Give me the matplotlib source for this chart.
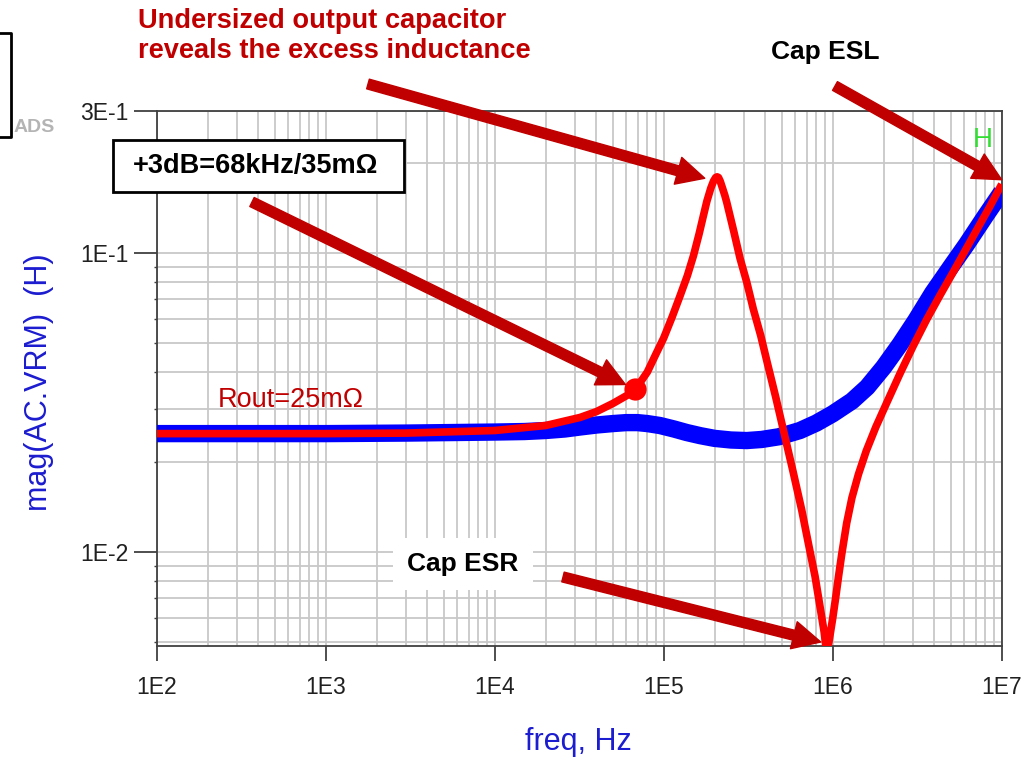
import matplotlib
matplotlib.use("Agg")
import numpy as np
import matplotlib.pyplot as plt
from matplotlib.ticker import FixedLocator, LogLocator, NullFormatter
from matplotlib.patches import Rectangle
from matplotlib.lines import Line2D

plt.rcParams['font.family'] = ['Liberation Sans', 'DejaVu Sans']

W, H = 1036, 767

# Output impedance with the full output capacitor bank (Ohm vs Hz)
freq_full = [1e2, 1e3, 3e3, 1e4, 1.5e4, 2e4, 2.6e4, 3.2e4, 4e4, 5e4,
             6e4, 7e4, 8e4, 9.5e4, 1.15e5, 1.37e5, 1.65e5, 2.0e5, 2.5e5, 3.1e5,
             3.8e5, 4.8e5, 6.4e5, 8e5, 1.0e6, 1.3e6, 1.6e6, 2.0e6, 2.5e6, 3.1e6,
             3.9e6, 5e6, 6.2e6, 8e6, 1e7]
z_full = [0.0249, 0.0249, 0.0250, 0.0252, 0.0253, 0.0255, 0.0258, 0.0262, 0.0266, 0.0269,
          0.0271, 0.0271, 0.0269, 0.0265, 0.0258, 0.0251, 0.0245, 0.0240, 0.0237, 0.0236,
          0.0238, 0.0243, 0.0255, 0.0270, 0.0290, 0.0320, 0.0356, 0.0415, 0.0495, 0.0595,
          0.0735, 0.0900, 0.1070, 0.1330, 0.1600]

# Output impedance with an undersized output capacitor
freq_small = [1e2, 1e3, 3e3, 1e4, 2e4, 3.2e4, 4e4, 5e4, 6e4, 6.8e4,
              8e4, 9e4, 1e5, 1.12e5, 1.25e5, 1.38e5, 1.5e5, 1.62e5, 1.71e5, 1.8e5,
              1.9e5, 1.97e5, 2.03e5, 2.07e5, 2.11e5, 2.16e5, 2.22e5, 2.3e5, 2.36e5, 2.6e5,
              2.83e5, 3.1e5, 3.39e5, 3.75e5, 4.1e5, 4.6e5, 5.2e5, 5.8e5, 6.56e5, 7.2e5,
              7.86e5, 8.4e5, 8.9e5, 9.2e5, 9.5e5, 1.0e6, 1.04e6, 1.08e6, 1.13e6, 1.21e6,
              1.3e6, 1.42e6, 1.58e6, 1.8e6, 2.1e6, 2.5e6, 3.0e6, 3.6e6, 4.3e6, 5.2e6,
              6.2e6, 7.2e6, 8.5e6, 1e7]
z_small = [0.0249, 0.0249, 0.0250, 0.0255, 0.0265, 0.0282, 0.0295, 0.0314, 0.0333, 0.0350,
           0.0400, 0.0460, 0.0520, 0.0610, 0.0720, 0.0840, 0.0980, 0.1160, 0.1320, 0.1490,
           0.1650, 0.1740, 0.1790, 0.1800, 0.1790, 0.1740, 0.1660, 0.1560, 0.1480, 0.1180,
           0.0960, 0.0800, 0.0650, 0.0530, 0.0430, 0.0330, 0.0245, 0.0188, 0.0138, 0.0106,
           0.0083, 0.0066, 0.0054, 0.0046, 0.0050, 0.0060, 0.0070, 0.0082, 0.0098, 0.0125,
           0.0152, 0.0182, 0.0218, 0.0262, 0.0318, 0.0395, 0.0490, 0.0600, 0.0720, 0.0870,
           0.1040, 0.1210, 0.1430, 0.1700]

# +3 dB point
knee_freq = 68e3
knee_z = 0.035

# Points the callout arrows land on
esr_freq, esr_z = 8.5e5, 5.0e-3
peak_freq, peak_z = 1.75e5, 0.178
esl_freq, esl_z = 1e7, 0.176

x_ticks = [1e2, 1e3, 1e4, 1e5, 1e6, 1e7]
x_tick_labels = ['1E2', '1E3', '1E4', '1E5', '1E6', '1E7']
y_ticks = [1e-2, 1e-1, 3e-1]
y_tick_labels = ['1E-2', '1E-1', '3E-1']

DARK_RED = '#c00000'
TRACE_BLUE = '#0000ff'
TRACE_RED = '#ff0000'
AXIS_BLUE = '#1c1cd0'


def fx(px):
    return px / W


def fy(py):
    return 1 - py / H


fig = plt.figure(figsize=(W / 100, H / 100), dpi=100)
fig.patch.set_facecolor('white')

left, right, top, bottom = 156.7, 1001.7, 110.5, 645.7
ax = fig.add_axes([fx(left), fy(bottom), (right - left) / W, (bottom - top) / H])
ax.set_xscale('log')
ax.set_yscale('log')
ax.set_xlim(1e2, 1e7)
ax.set_ylim(4.86e-3, 3e-1)

ax.plot(freq_full, z_full, color=TRACE_BLUE, lw=12.5, solid_capstyle='butt',
        solid_joinstyle='round', zorder=3)
ax.plot(freq_small, z_small, color=TRACE_RED, lw=5.5, solid_capstyle='butt',
        solid_joinstyle='round', zorder=4)
ax.plot([knee_freq], [knee_z], 'o', color=TRACE_RED, ms=16, mec='none', zorder=5)

# axes, ticks and grid
ax.xaxis.set_major_locator(FixedLocator(x_ticks))
ax.xaxis.set_major_formatter(plt.FixedFormatter(x_tick_labels))
ax.xaxis.set_minor_locator(LogLocator(base=10, subs=np.arange(2, 10)))
ax.xaxis.set_minor_formatter(NullFormatter())
ax.yaxis.set_major_locator(FixedLocator(y_ticks))
ax.yaxis.set_major_formatter(plt.FixedFormatter(y_tick_labels))
ax.yaxis.set_minor_locator(LogLocator(base=10, subs=np.arange(2, 10)))
ax.yaxis.set_minor_formatter(NullFormatter())

ax.grid(which='both', color='#c8c8c8', lw=1.3)
ax.set_axisbelow(True)
for s in ax.spines.values():
    s.set_color('#404040')
    s.set_linewidth(1.3)

ax.tick_params(axis='x', which='major', direction='out', length=11, width=1.2,
               color='#303030', labelsize=16.5, pad=11, labelcolor='#202020')
ax.tick_params(axis='y', which='major', direction='out', length=16.5, width=1.2,
               color='#303030', labelsize=16.5, pad=4, labelcolor='#202020')
ax.tick_params(axis='x', which='minor', length=0)
ax.tick_params(axis='y', which='minor', direction='out', length=2.5, width=1.0,
               color='#404040')

fig.text(fx(578), fy(742), 'freq, Hz', color=AXIS_BLUE, fontsize=22,
         ha='center', va='center')
fig.text(fx(39), fy(382), 'mag(AC.VRM)  (H)', color=AXIS_BLUE, fontsize=22,
         ha='center', va='center', rotation=90)

# corner marks
fig.text(fx(34), fy(128), 'ADS', color='#b4b4b4', fontsize=14, fontweight='bold',
         ha='center', va='center')
fig.add_artist(Line2D([0, fx(11), fx(11), 0], [fy(33), fy(33), fy(137), fy(137)],
                      transform=fig.transFigure, color='black', lw=2))
fig.text(fx(983), fy(140), 'H', color='#33dd33', fontsize=20, ha='center', va='center')

# callout texts
fig.text(fx(138), fy(21), 'Undersized output capacitor', color=DARK_RED,
         fontsize=19.6, fontweight='bold', ha='left', va='center')
fig.text(fx(138), fy(51), 'reveals the excess inductance', color=DARK_RED,
         fontsize=19.6, fontweight='bold', ha='left', va='center')
fig.text(fx(825), fy(52), 'Cap ESL', color='black', fontsize=19, fontweight='bold',
         ha='center', va='center')
fig.add_artist(Rectangle((fx(113), fy(192)), (404 - 113) / W, (192 - 140) / H,
                         transform=fig.transFigure, facecolor='white',
                         edgecolor='black', lw=2, zorder=2))
fig.text(fx(256), fy(166), '+3dB=68kHz/35m\u03a9', color='black', fontsize=19.5,
         fontweight='bold', ha='center', va='center', zorder=3)
fig.text(fx(291), fy(400), 'Rout=25m\u03a9', color=DARK_RED, fontsize=19.5,
         ha='center', va='center', zorder=3)
fig.text(fx(463), fy(564), 'Cap ESR', color='black', fontsize=19, fontweight='bold',
         ha='center', va='center', zorder=3,
         bbox=dict(facecolor='white', edgecolor='none', pad=10))

arrow = dict(arrowstyle='simple,head_length=1.0,head_width=1.0,tail_width=0.36',
             color=DARK_RED, mutation_scale=20, shrinkA=0, shrinkB=0)
ax.annotate('', xy=(peak_freq, peak_z), xycoords='data',
            xytext=(368, H - 84), textcoords='figure pixels',
            arrowprops=arrow, annotation_clip=False, zorder=6)
ax.annotate('', xy=(knee_freq, knee_z), xycoords='data',
            xytext=(252, H - 202), textcoords='figure pixels',
            arrowprops=dict(arrow, shrinkB=8), annotation_clip=False, zorder=6)
ax.annotate('', xy=(esl_freq, esl_z), xycoords='data',
            xytext=(835, H - 86), textcoords='figure pixels',
            arrowprops=arrow, annotation_clip=False, zorder=6)
ax.annotate('', xy=(esr_freq, esr_z), xycoords='data',
            xytext=(563, H - 577), textcoords='figure pixels',
            arrowprops=arrow, annotation_clip=False, zorder=6)

fig.savefig('out.png', dpi=100, facecolor='white')
